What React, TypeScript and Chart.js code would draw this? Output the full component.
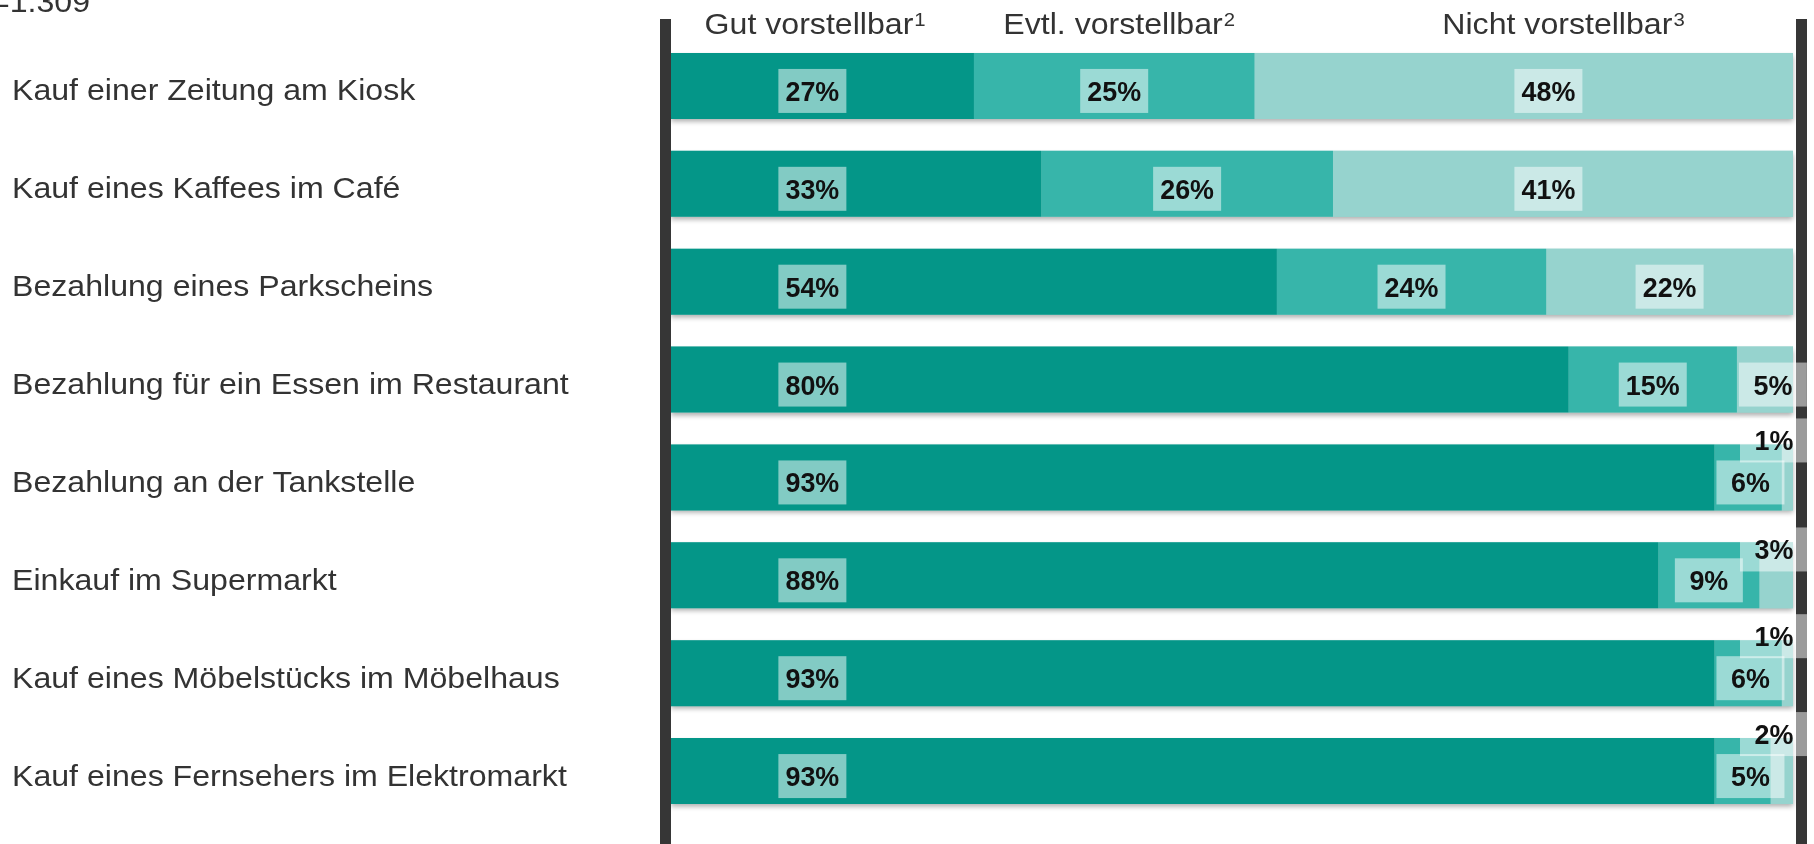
import { useEffect, useRef } from "react";
import { Chart, registerables } from "chart.js";

Chart.register(...registerables);

const categories = [
  "Kauf einer Zeitung am Kiosk",
  "Kauf eines Kaffees im Café",
  "Bezahlung eines Parkscheins",
  "Bezahlung für ein Essen im Restaurant",
  "Bezahlung an der Tankstelle",
  "Einkauf im Supermarkt",
  "Kauf eines Möbelstücks im Möbelhaus",
  "Kauf eines Fernsehers im Elektromarkt",
];
const gutValues = [27, 33, 54, 80, 93, 88, 93, 93];
const evtlValues = [25, 26, 24, 15, 6, 9, 6, 5];
const nichtValues = [48, 41, 22, 5, 1, 3, 1, 2];
const seriesNames = ["Gut vorstellbar", "Evtl. vorstellbar", "Nicht vorstellbar"];
const seriesFootnotes = ["1", "2", "3"];
const headerAt = [12.8, 39.9, 79.5];
const labelAnchors: (number | null)[] = [12.6, null, 78.2];
const sampleNote = "n=1.309";

const COLORS = ["#049688", "#37b5aa", "#96d3ce"];
const FONT = "'Liberation Sans', Arial, Helvetica, sans-serif";
const STRETCH = 1.07;
const LABEL_STRETCH = 0.96;
const BOX_W = 68;
const BOX_H = 44;
const LABEL_DROP = 5;

function stretchedText(
  ctx: CanvasRenderingContext2D,
  text: string,
  x: number,
  y: number,
  align: "left" | "center" | "right",
  k: number = STRETCH
) {
  const w = ctx.measureText(text).width * k;
  const left = align === "center" ? x - w / 2 : align === "right" ? x - w : x;
  ctx.save();
  ctx.translate(left, y);
  ctx.scale(k, 1);
  ctx.textAlign = "left";
  ctx.fillText(text, 0, 0);
  ctx.restore();
}

const decorPlugin = {
  id: "decor",
  beforeDatasetsDraw(chart: any) {
    const ctx: CanvasRenderingContext2D = chart.ctx;
    const xs = chart.scales.x;
    const meta = chart.getDatasetMeta(0);
    ctx.save();
    ctx.shadowColor = "rgba(0,0,0,0.32)";
    ctx.shadowBlur = 5;
    ctx.shadowOffsetY = 3;
    ctx.fillStyle = COLORS[2];
    const l = xs.getPixelForValue(0);
    const r = xs.getPixelForValue(100);
    meta.data.forEach((el: any) => {
      ctx.fillRect(l, el.y - el.height / 2, r - l, el.height);
    });
    ctx.restore();
  },
  afterDatasetsDraw(chart: any) {
    const ctx: CanvasRenderingContext2D = chart.ctx;
    const xs = chart.scales.x;
    const ys = chart.scales.y;
    const area = chart.chartArea;
    const H = chart.height;

    // vertical frame lines
    ctx.save();
    ctx.fillStyle = "#363636";
    ctx.fillRect(area.left - 11, area.top - 18, 11, H - area.top + 18);
    ctx.fillRect(area.right + 3, area.top - 18, 11, H - area.top + 18);
    ctx.restore();

    // category labels
    ctx.save();
    ctx.fillStyle = "#333333";
    ctx.font = `30px ${FONT}`;
    ctx.textBaseline = "alphabetic";
    categories.forEach((c, i) => {
      const y = ys.getPixelForValue(i);
      stretchedText(ctx, c, 12, y + 14.5, "left");
    });

    // sample size note
    stretchedText(ctx, sampleNote, 90, 12, "right");

    // headers
    seriesNames.forEach((name, s) => {
      ctx.font = `30px ${FONT}`;
      const wMain = ctx.measureText(name).width * STRETCH;
      ctx.font = `19px ${FONT}`;
      const wSup = ctx.measureText(seriesFootnotes[s]).width * STRETCH;
      const cx = xs.getPixelForValue(headerAt[s]);
      const left = cx - (wMain + wSup) / 2;
      const base = area.top - 3.5;
      ctx.font = `30px ${FONT}`;
      stretchedText(ctx, name, left, base, "left");
      ctx.font = `19px ${FONT}`;
      stretchedText(ctx, seriesFootnotes[s], left + wMain + 1, base - 7.5, "left");
    });
    ctx.restore();

    // data labels
    const metas = [0, 1, 2].map((s) => chart.getDatasetMeta(s));
    const values = [gutValues, evtlValues, nichtValues];
    ctx.save();
    ctx.font = `bold 28px ${FONT}`;
    ctx.textBaseline = "alphabetic";
    categories.forEach((_, i) => {
      const placed: { x: number; y: number; t: string }[] = [];
      const cy = metas[0].data[i].y + LABEL_DROP;
      for (let s = 0; s < 3; s++) {
        const el = metas[s].data[i];
        const start = Math.min(el.base, el.x);
        const end = Math.max(el.base, el.x);
        let cx: number | undefined;
        const a = labelAnchors[s];
        if (a !== null) {
          const ax = xs.getPixelForValue(a);
          if (ax - BOX_W / 2 >= start && ax + BOX_W / 2 <= end) cx = ax;
        }
        if (cx === undefined) cx = Math.max((start + end) / 2, start + BOX_W / 2 + 2);
        cx = Math.min(cx, area.right + 15 - BOX_W / 2);
        let y = cy;
        const prev = placed[placed.length - 1];
        if (prev) {
          const overlap = prev.x + BOX_W / 2 - (cx - BOX_W / 2);
          if (overlap > 0) {
            const sep = 30 + 12 * Math.min(1, overlap / 40);
            y = prev.y - sep;
          }
        }
        placed.push({ x: cx, y, t: values[s][i] + "%" });
      }
      placed.forEach((p) => {
        ctx.fillStyle = "rgba(255,255,255,0.5)";
        ctx.fillRect(p.x - BOX_W / 2, p.y - BOX_H / 2, BOX_W, BOX_H);
        ctx.fillStyle = "#111111";
        stretchedText(ctx, p.t, p.x, p.y + 10, "center", LABEL_STRETCH);
      });
    });
    ctx.restore();
  },
};

export default function App() {
  const ref = useRef<HTMLCanvasElement | null>(null);
  useEffect(() => {
    document.body.style.margin = "0";
    document.body.style.overflow = "hidden";
    if (!ref.current) return;
    const chart = new Chart(ref.current, {
      type: "bar",
      data: {
        labels: categories,
        datasets: [gutValues, evtlValues, nichtValues].map((d, s) => ({
          label: seriesNames[s],
          data: d,
          backgroundColor: COLORS[s],
          borderWidth: 0,
          categoryPercentage: 1,
          barPercentage: 0.674,
          stack: "a",
        })),
      },
      options: {
        indexAxis: "y",
        responsive: false,
        maintainAspectRatio: false,
        animation: false,
        layout: { padding: { left: 671, right: 21, top: 37, bottom: 24 } },
        plugins: { legend: { display: false }, tooltip: { enabled: false } },
        scales: {
          x: { stacked: true, min: 0, max: 100, display: false },
          y: { stacked: true, display: false },
        },
      },
      plugins: [decorPlugin],
    });
    return () => chart.destroy();
  }, []);
  return <canvas ref={ref} width={1814} height={844} style={{ display: "block" }} />;
}
